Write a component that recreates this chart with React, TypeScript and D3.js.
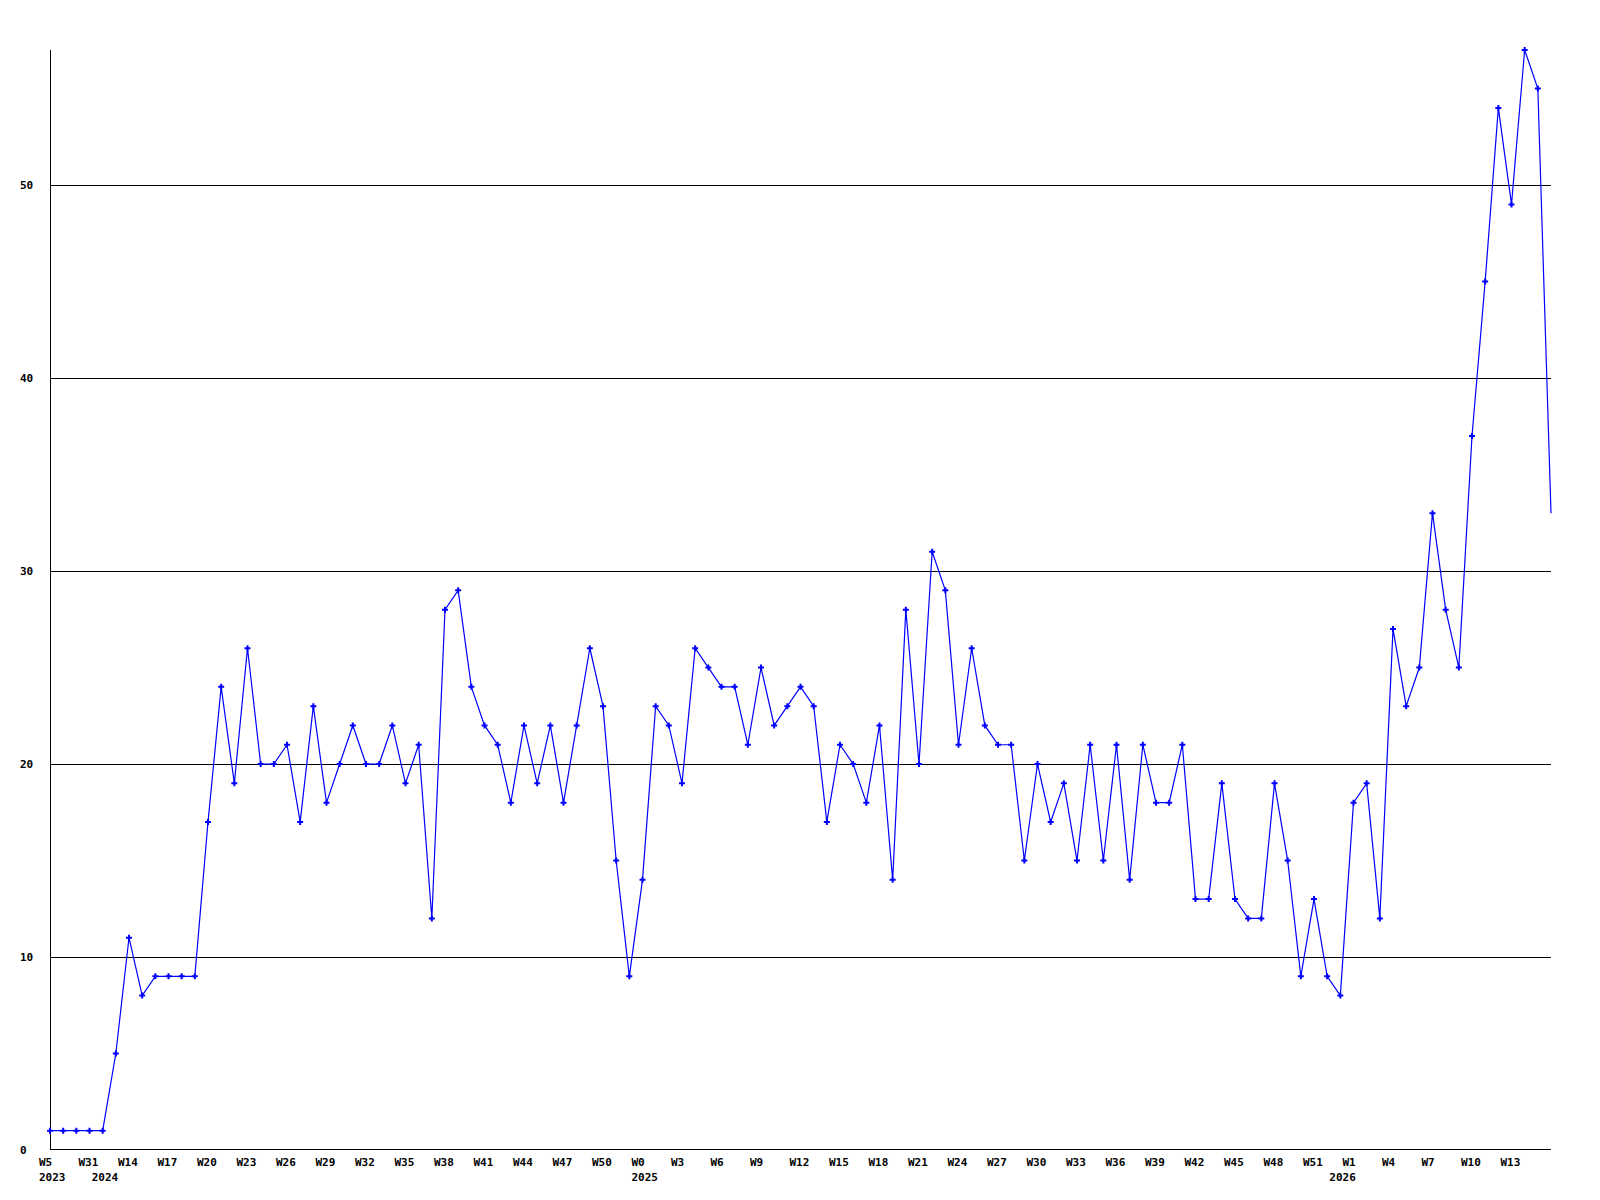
import React from "react";
import * as d3 from "d3";

const values: number[] = [
  1, 1, 1, 1, 1, 5, 11, 8, 9, 9, 9, 9, 17, 24, 19, 26, 20, 20, 21, 17,
  23, 18, 20, 22, 20, 20, 22, 19, 21, 12, 28, 29, 24, 22, 21, 18, 22, 19, 22, 18,
  22, 26, 23, 15, 9, 14, 23, 22, 19, 26, 25, 24, 24, 21, 25, 22, 23, 24, 23, 17,
  21, 20, 18, 22, 14, 28, 20, 31, 29, 21, 26, 22, 21, 21, 15, 20, 17, 19, 15, 21,
  15, 21, 14, 21, 18, 18, 21, 13, 13, 19, 13, 12, 12, 19, 15, 9, 13, 9, 8, 18,
  19, 12, 27, 23, 25, 33, 28, 25, 37, 45, 54, 49, 57, 55, 33,
];

const weekLabels: string[] = [
  "W5", "W31", "W14", "W17", "W20", "W23", "W26", "W29", "W32", "W35",
  "W38", "W41", "W44", "W47", "W50", "W0", "W3", "W6", "W9", "W12",
  "W15", "W18", "W21", "W24", "W27", "W30", "W33", "W36", "W39", "W42",
  "W45", "W48", "W51", "W1", "W4", "W7", "W10", "W13",
];
const weekLabelStep = 3;

const yearLabels: string[] = ["2023", "2024", "2025", "2026"];
const yearIndices: number[] = [0, 4, 45, 98];

const yTicks: number[] = [0, 10, 20, 30, 40, 50];
const yMax = 57;

const FONT = "'DejaVu Sans Mono', 'Liberation Mono', monospace";

export default function App() {
  const left = 50;
  const right = 1551;
  const top = 50;
  const bottom = 1150;

  const x = d3.scaleLinear().domain([0, values.length - 1]).range([left, right]);
  const y = d3.scaleLinear().domain([0, yMax]).range([bottom, top]);

  const line = d3
    .line<number>()
    .x((_, i) => x(i))
    .y((d) => y(d));

  const marker = d3.symbol().type(d3.symbolCross).size(20)() as string;

  return (
    <svg
      width={1600}
      height={1200}
      style={{ position: "absolute", left: 0, top: 0, background: "#fff" }}
    >
      <rect x={0} y={0} width={1600} height={1200} fill="#fff" />
      {yTicks.filter((t) => t > 0).map((t) => (
        <line
          key={"g" + t}
          x1={left}
          x2={right}
          y1={Math.round(y(t)) + 0.5}
          y2={Math.round(y(t)) + 0.5}
          stroke="#000"
          strokeWidth={1}
          shapeRendering="crispEdges"
        />
      ))}
      <line
        x1={left + 0.5}
        x2={left + 0.5}
        y1={top}
        y2={bottom}
        stroke="#000"
        strokeWidth={1}
        shapeRendering="crispEdges"
      />
      <line
        x1={left}
        x2={right}
        y1={bottom - 0.5}
        y2={bottom - 0.5}
        stroke="#000"
        strokeWidth={1}
        shapeRendering="crispEdges"
      />
      {yTicks.map((t) => (
        <text
          key={"yl" + t}
          x={20}
          y={y(t) + 4}
          fontFamily={FONT}
          fontWeight="bold"
          fontSize={11}
          fill="#000"
        >
          {t}
        </text>
      ))}
      {weekLabels.map((l, k) => (
        <text
          key={"wl" + k}
          x={x(k * weekLabelStep) - 11}
          y={1166}
          fontFamily={FONT}
          fontWeight="bold"
          fontSize={11}
          fill="#000"
        >
          {l}
        </text>
      ))}
      {yearLabels.map((l, k) => (
        <text
          key={"yr" + k}
          x={x(yearIndices[k]) - 11}
          y={1181}
          fontFamily={FONT}
          fontWeight="bold"
          fontSize={11}
          fill="#000"
        >
          {l}
        </text>
      ))}
      <path d={line(values) || ""} fill="none" stroke="#0000ff" strokeWidth={1.2} />
      {values.slice(0, values.length - 1).map((v, i) => (
        <path
          key={"m" + i}
          d={marker}
          transform={`translate(${x(i)},${y(v)})`}
          fill="#0000ff"
        />
      ))}
    </svg>
  );
}
